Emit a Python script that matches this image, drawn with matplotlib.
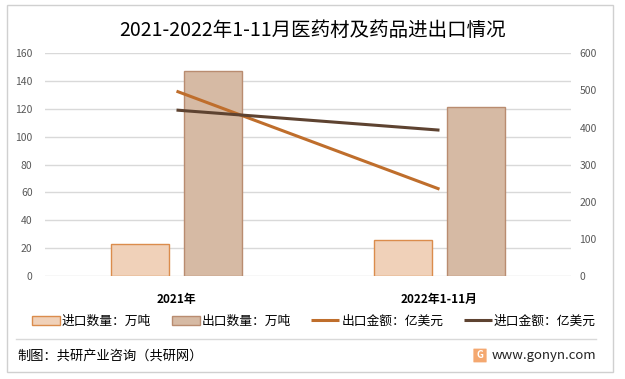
import matplotlib
matplotlib.use("Agg")
import matplotlib.pyplot as plt
from matplotlib.patches import Rectangle, FancyBboxPatch
from matplotlib.lines import Line2D
import numpy as np

plt.rcParams['font.family'] = ['Noto Sans CJK SC', 'DejaVu Sans']

categories = ["2021年", "2022年1-11月"]
import_qty = [22.8, 25.6]      # 进口数量：万吨
export_qty = [147.0, 121.2]    # 出口数量：万吨
export_amt = [498.0, 234.0]    # 出口金额：亿美元
import_amt = [447.0, 393.0]    # 进口金额：亿美元
left_ticks = [0, 20, 40, 60, 80, 100, 120, 140, 160]
right_ticks = [0, 100, 200, 300, 400, 500, 600]

c_imp_bar = "#F0D1B9"; c_imp_edge = "#DB8C4C"
c_exp_bar = "#D6BAA4"; c_exp_edge = "#B98C70"
c_exp_line = "#BF6E2C"; c_imp_line = "#5E4331"
tick_col = "#595959"; grid_col = "#D9D9D9"

fig = plt.figure(figsize=(6.25, 3.79), dpi=100)
fig.patches.append(Rectangle((7/625, 1-372/379), 606/625, 367/379, transform=fig.transFigure,
                             fill=False, edgecolor="#D0D0D0", linewidth=1))

ax = fig.add_axes([45/625, 1-276/379, 526/625, (276-53.3)/379])
x = np.arange(len(categories))
w = 0.22
off = 0.14
ax.bar(x - off, import_qty, w, color=c_imp_bar, edgecolor=c_imp_edge, linewidth=1, zorder=2,
       label="进口数量：万吨")
ax.bar(x + off, export_qty, w, color=c_exp_bar, edgecolor=c_exp_edge, linewidth=1, zorder=2,
       label="出口数量：万吨")
ax.set_xlim(-0.5, 1.5)
ax.set_ylim(0, 160)
ax.set_yticks(left_ticks)
ax.yaxis.grid(True, color=grid_col, linewidth=1)
ax.set_axisbelow(True)
for s in ax.spines.values():
    s.set_visible(False)
ax.set_xticks(x)
ax.set_xticklabels(categories, fontweight='bold', fontsize=8.5, color="#000000")
ax.tick_params(axis='x', length=0, pad=12)
ax.tick_params(axis='y', length=0, labelcolor=tick_col, labelsize=7.5, pad=9)

ax2 = ax.twinx()
ax2.plot(x, export_amt, color=c_exp_line, linewidth=2.2, solid_capstyle='butt', label="出口金额：亿美元", zorder=3)
ax2.plot(x, import_amt, color=c_imp_line, linewidth=2.2, solid_capstyle='butt', label="进口金额：亿美元", zorder=3)
ax2.set_ylim(0, 600)
ax2.set_yticks(right_ticks)
for s in ax2.spines.values():
    s.set_visible(False)
ax2.tick_params(axis='y', length=0, labelcolor=tick_col, labelsize=7.5, pad=6)

fig.text(0.5, 1-30/379, "2021-2022年1-11月医药材及药品进出口情况", ha='center', va='center',
         fontsize=14, color="#000000")

h1, l1 = ax.get_legend_handles_labels()
h2, l2 = ax2.get_legend_handles_labels()
fig.legend(h1 + h2, l1 + l2, loc='center', bbox_to_anchor=(0.502, 1-321/379), ncol=4,
           frameon=False, fontsize=9.2, handlelength=2.2, handleheight=0.7, columnspacing=1.6,
           handletextpad=0.15, borderaxespad=0)

fig.lines.append(Line2D([16/625, 596/625], [1-339/379, 1-339/379], transform=fig.transFigure,
                        color="#D9D9D9", linewidth=1))
fig.text(17/625, 1-356/379, "制图：共研产业咨询（共研网）", ha='left', va='center', fontsize=9.5, color="#000000")
fig.patches.append(FancyBboxPatch((474/625, 1-362/379), 12/625, 13/379, transform=fig.transFigure,
                                  boxstyle="round,pad=0.001", facecolor="#F4A870", edgecolor="none"))
fig.text(480/625, 1-355.5/379, "G", ha='center', va='center', fontsize=7, color="white", fontweight='bold')
fig.text(492/625, 1-356/379, "www.gonyn.com", ha='left', va='center', fontsize=9.5, color="#222222")

fig.savefig("out.png", dpi=100)
